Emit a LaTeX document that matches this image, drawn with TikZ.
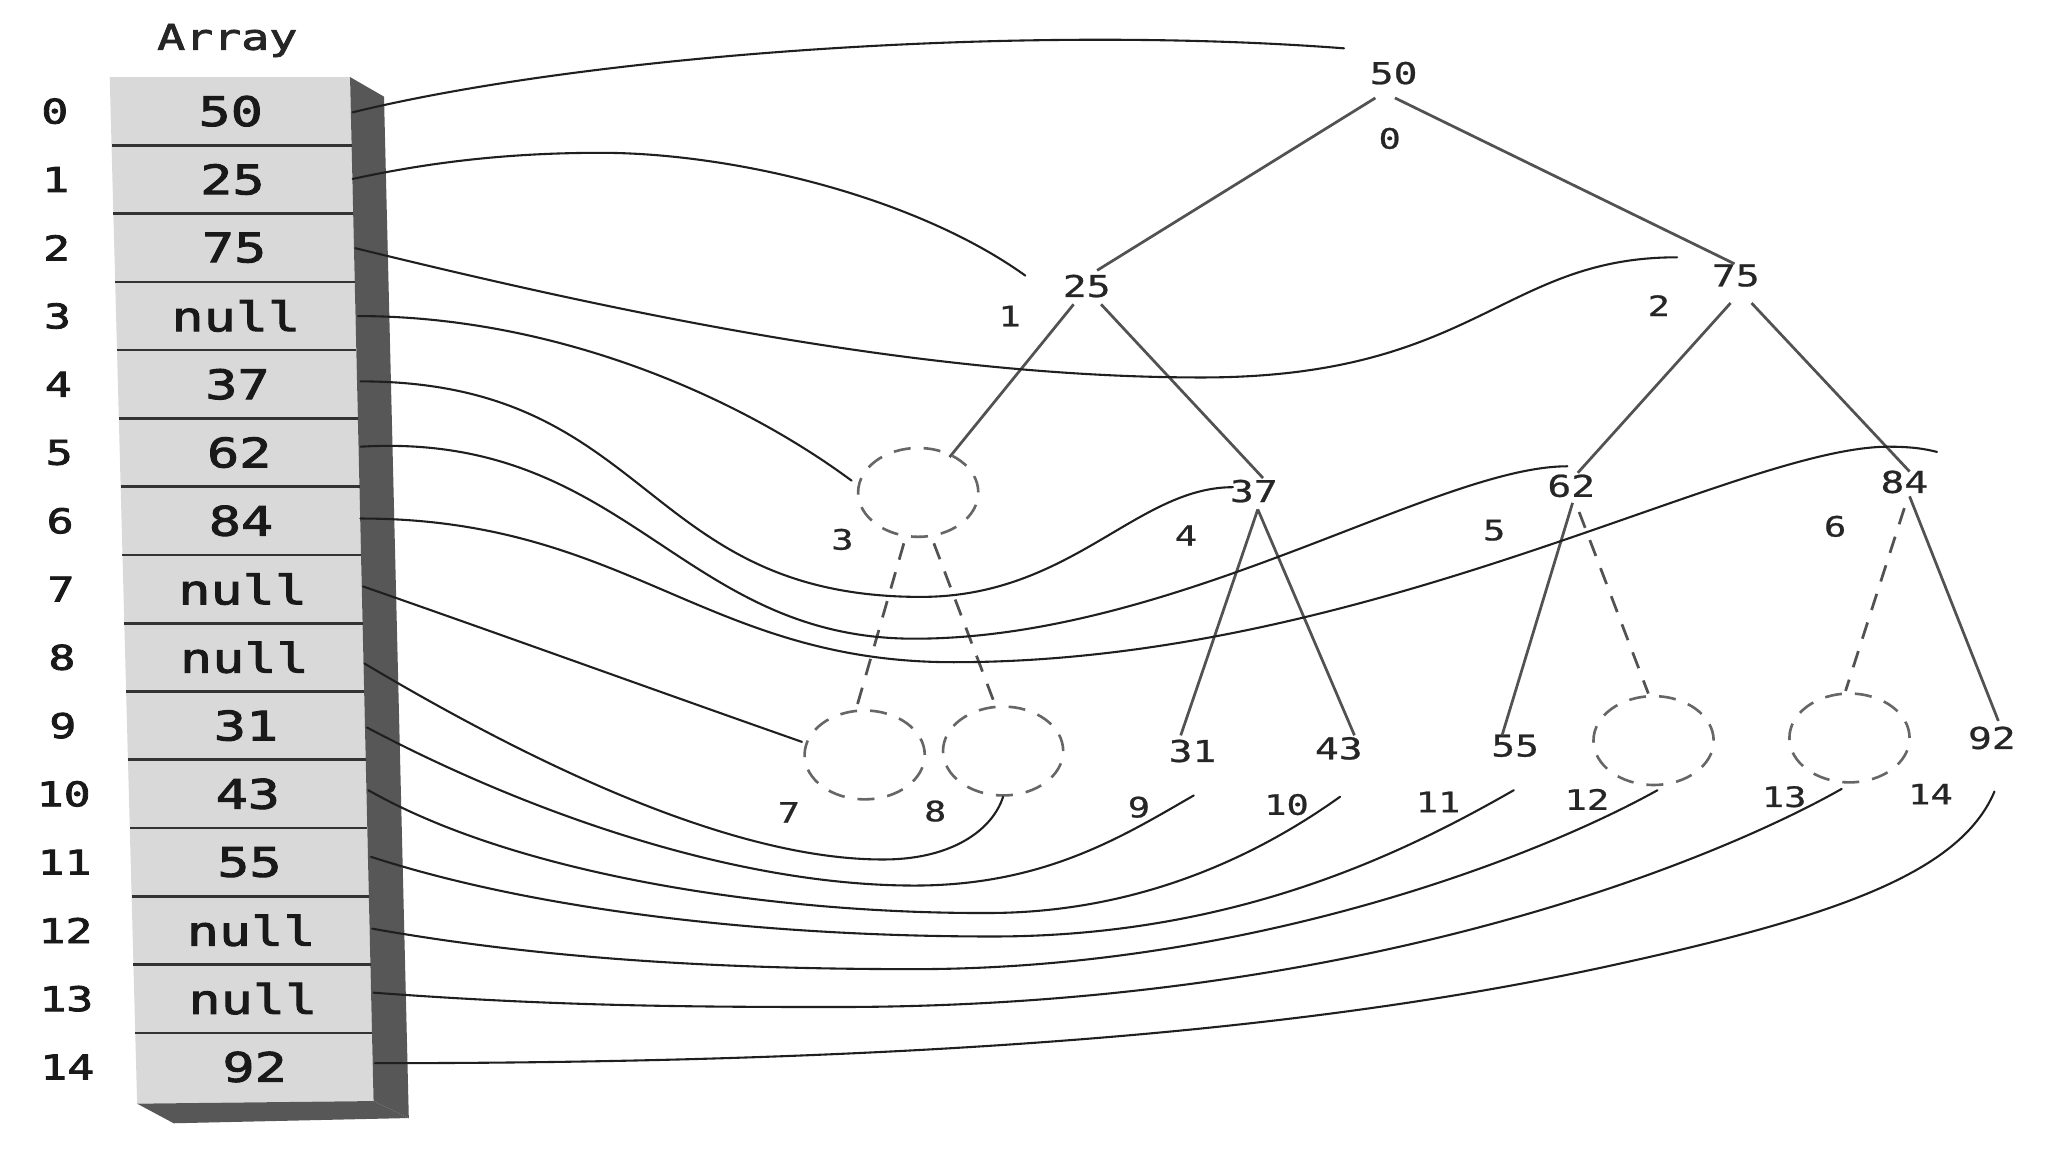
\documentclass[tikz,border=0pt]{standalone}
\usepackage{fontspec}
\newfontfamily\dmono[FakeStretch=1.32,FakeBold=0.8]{DejaVu Sans Mono}
\newfontfamily\dmonob[FakeStretch=1.32,FakeBold=2.5]{DejaVu Sans Mono}
\usetikzlibrary{calc,shapes.geometric}
\begin{document}
\begin{tikzpicture}[x=1pt,y=-1pt,
  conn/.style={line width=1.6pt, draw=black!88, line cap=round},
  edge/.style={line width=2.1pt, draw=black!68},
  dedge/.style={edge, dash pattern=on 13pt off 10pt},
  nullc/.style={ellipse, draw=black!60, line width=2pt, dash pattern=on 13pt off 10pt, minimum width=92pt, minimum height=68pt, inner sep=0pt},
  val/.style={font=\dmono\fontsize{23}{25}\selectfont, text=black!85, inner sep=1pt},
  idx/.style={font=\dmono\fontsize{21.5}{24}\selectfont, text=black!85, inner sep=1pt},
  cell/.style={font=\dmonob\fontsize{31}{34}\selectfont, text=black!90, inner sep=0pt},
  aidx/.style={font=\dmonob\fontsize{26}{30}\selectfont, text=black!90, inner sep=0pt},
  titlest/.style={font=\dmonob\fontsize{27}{30}\selectfont, text=black!85, inner sep=0pt},
  divider/.style={line width=2pt, draw=black!80},
]
\useasboundingbox (0,0) rectangle (1568,882);
\fill[white] (0,0) rectangle (1568,882);

% ---------- array ----------
\fill[black!15] (84,59) -- (268,59) -- (286,843) -- (105,845) -- cycle;
\fill[black!66] (268,59) -- (294,74) -- (313,856) -- (286,843) -- cycle;
\fill[black!66] (105,845) -- (286,843) -- (313,856) -- (133,860) -- cycle;
\foreach \k in {1,...,14} {
  \pgfmathsetmacro\yy{59+52.27*\k}
  \draw[divider] ({84+(\yy-59)*0.0267},\yy) -- ({268+(\yy-59)*0.0232},\yy);
}
\node[titlest] (ttl) at (174,31) {Array};
\foreach \v [count=\k from 0] in {50,25,75,null,37,62,84,null,null,31,43,55,null,null,92} {
  \pgfmathsetmacro\yy{59+52.27*(\k+0.5)}
  \pgfmathsetmacro\xx{176+(\yy-59)*0.025}
  \pgfmathsetmacro\xi{42+(\yy-86)*0.013}
  \node[cell] (a\k) at (\xx,\yy) {\v};
  \node[aidx] (i\k) at (\xi,\yy) {\k};
}
\foreach \k/\sx/\sy in {0/270/86, 1/270/137, 2/272/190, 3/274/242, 4/276/292,
  5/276/342, 6/276/397, 7/278/449, 8/279/508, 9/281/557, 10/282/605,
  11/284/656, 12/285/711, 13/286/760, 14/287/814}
  \coordinate (s\k) at (\sx,\sy);

% ---------- tree ----------
\node[val] (n0) at (1067,56) {50};   \node[idx] (l0) at (1064,106) {0};
\node[val] (n1) at (832,219) {25};   \node[idx] (l1) at (773,242) {1};
\node[val] (n2) at (1329,211) {75};  \node[idx] (l2) at (1270,234) {2};
\node[nullc] (c3) at (703,377) {};   \node[idx] (l3) at (645,413) {3};
\node[val] (n4) at (960,376) {37};   \node[idx] (l4) at (908,410) {4};
\node[val] (n5) at (1203,372) {62};  \node[idx] (l5) at (1144,406) {5};
\node[val] (n6) at (1458,369) {84};  \node[idx] (l6) at (1405,403) {6};
\node[nullc] (c7) at (662,578) {};   \node[idx] (l7) at (604,622) {7};
\node[nullc] (c8) at (768,575) {};   \node[idx] (l8) at (716,621) {8};
\node[val] (n9) at (913,575) {31};   \node[idx] (l9) at (872,618) {9};
\node[val] (n10) at (1025,573) {43}; \node[idx] (l10) at (985,616) {10};
\node[val] (n11) at (1160,571) {55}; \node[idx] (l11) at (1101,614) {11};
\node[nullc] (c12) at (1266,567) {}; \node[idx] (l12) at (1215,612) {12};
\node[nullc] (c13) at (1416,565) {}; \node[idx] (l13) at (1366,610) {13};
\node[val] (n14) at (1525,565) {92}; \node[idx] (l14) at (1478,608) {14};

\draw[edge] ($(n0)+(-14,19)$) -- ($(n1)+(8,-12)$);
\draw[edge] ($(n0)+(1,19)$) -- ($(n2)+(-1,-9)$);
\draw[edge] ($(n1)+(-10,14)$) -- ($(c3)+(24,-27)$);
\draw[edge] ($(n1)+(11,14)$) -- ($(n4)+(7,-10)$);
\draw[edge] ($(n2)+(-4,21)$) -- ($(n5)+(5,-10)$);
\draw[edge] ($(n2)+(12,21)$) -- ($(n6)+(4,-8)$);
\draw[edge] ($(n4)+(3,14)$) -- ($(n9)+(-9,-12)$);
\draw[edge] ($(n4)+(3,14)$) -- ($(n10)+(12,-10)$);
\draw[edge] ($(n5)+(1,13)$) -- ($(n11)+(-10,-8)$);
\draw[edge] ($(n6)+(4,11)$) -- ($(n14)+(5,-13)$);
\draw[dedge] ($(c3)+(-11,39)$) -- ($(c7)+(-6,-37)$);
\draw[dedge] ($(c3)+(12,39)$) -- ($(c8)+(-6,-35)$);
\draw[dedge] ($(n5)+(6,20)$) -- ($(c12)+(-4,-36)$);
\draw[dedge] ($(n6)+(0,20)$) -- ($(c13)+(-3,-36)$);

% ---------- connector ends ----------
\coordinate (t0) at (1029,37);
\coordinate (t1) at (785,211);
\coordinate (t2) at (1284,197);
\coordinate (t3) at (652,368);
\coordinate (t4) at (944,373);
\coordinate (t5) at (1200,357);
\coordinate (t6) at (1483,346);
\coordinate (t7) at (614,568);
\coordinate (t8) at (768,610);
\coordinate (t9) at (914,609);
\coordinate (t10) at (1026,610);
\coordinate (t11) at (1159,605);
\coordinate (t12) at (1269,605);
\coordinate (t13) at (1410,604);
\coordinate (t14) at (1527,606);

% ---------- connectors ----------
\draw[conn] (s0) .. controls (450,42) and (780,18) .. (t0);
\draw[conn] (s1) .. controls (330,124) and (390,117) .. (460,117)
                 .. controls (560,117) and (700,150) .. (t1);
\draw[conn] (s2) .. controls (460,236) and (700,289) .. (920,289)
                 .. controls (1130,289) and (1150,197) .. (t2);
\draw[conn] (s3) .. controls (420,242) and (560,300) .. (t3);
\draw[conn] (s4) .. controls (500,292) and (490,457) .. (705,457)
                 .. controls (820,457) and (870,373) .. (t4);
\draw[conn] (s5) .. controls (480,330) and (520,489) .. (700,489)
                 .. controls (900,489) and (1100,357) .. (t5);
\draw[conn] (s6) .. controls (480,397) and (540,507) .. (730,507)
                 .. controls (1050,507) and (1330,342) .. (1446,342)
                 .. controls (1465,342) and (1475,344) .. (t6);
\draw[conn] (s7) .. controls (390,488) and (500,528) .. (t7);
\draw[conn] (s8) .. controls (400,580) and (560,660) .. (680,658)
                 .. controls (730,657) and (760,635) .. (t8);
\draw[conn] (s9) .. controls (400,620) and (560,678) .. (700,678)
                 .. controls (800,678) and (860,640) .. (t9);
\draw[conn] (s10) .. controls (400,672) and (600,700) .. (760,699)
                  .. controls (880,698) and (970,650) .. (t10);
\draw[conn] (s11) .. controls (420,700) and (600,717) .. (760,717)
                  .. controls (950,717) and (1080,650) .. (t11);
\draw[conn] (s12) .. controls (420,735) and (560,742) .. (700,742)
                  .. controls (950,742) and (1170,660) .. (t12);
\draw[conn] (s13) .. controls (420,770) and (520,771) .. (640,771)
                  .. controls (1050,771) and (1320,655) .. (t13);
\draw[conn] (s14) .. controls (700,814) and (1000,790) .. (1230,740)
                  .. controls (1400,703) and (1500,670) .. (t14);
\end{tikzpicture}
\end{document}
